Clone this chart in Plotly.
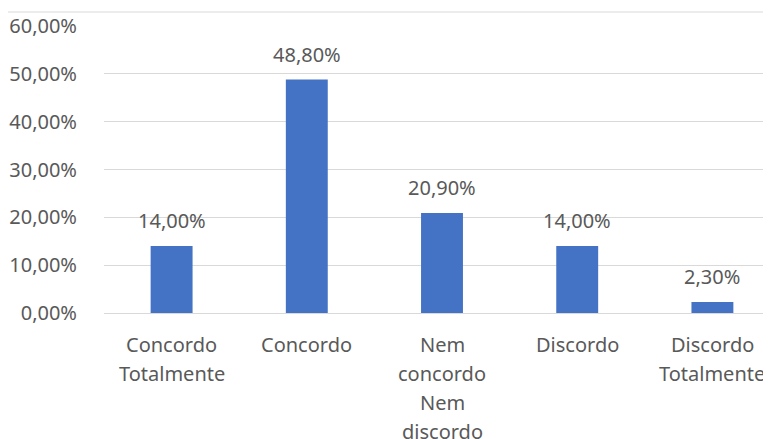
import plotly.graph_objects as go

categories = ["Concordo<br>Totalmente", "Concordo", "Nem<br>concordo<br>Nem<br>discordo", "Discordo", "Discordo<br>Totalmente"]
values = [14.00, 48.80, 20.90, 14.00, 2.30]
value_labels = ["14,00%", "48,80%", "20,90%", "14,00%", "2,30%"]
tick_vals = [0, 10, 20, 30, 40, 50, 60]
tick_text = ["0,00%", "10,00%", "20,00%", "30,00%", "40,00%", "50,00%", "60,00%"]

FONT = "Segoe UI, Noto Sans, Open Sans, sans-serif"
TXT = "#595959"
BAR = "#4472C4"
GRID = "#D9D9D9"
FS = 20

# page has an 8px body margin; figure drawn from (8, 8)
W, H = 763, 431
L, R, T, B = 96, 0, 18, 126
plot_h = H - T - B
plot_w = W - L - R

xs = list(range(len(categories)))
fig = go.Figure()
fig.add_trace(go.Bar(x=xs, y=values, marker=dict(color=BAR, line=dict(width=0)),
                     width=0.31, hoverinfo="skip"))

annotations = []
for x, v, lab in zip(xs, values, value_labels):
    annotations.append(dict(x=x, y=v, xref="x", yref="y", text=lab, showarrow=False,
                            yanchor="bottom", yshift=10,
                            font=dict(family=FONT, size=FS, color=TXT)))
line_px = 29
for x, cat in zip(xs, categories):
    for i, part in enumerate(cat.split("<br>")):
        annotations.append(dict(x=x, y=0, xref="x", yref="y", text=part, showarrow=False,
                                yanchor="middle", yshift=-(31 + i * line_px),
                                font=dict(family=FONT, size=FS, color=TXT)))

fig.update_layout(
    width=W, height=H,
    margin=dict(l=L, r=R, t=T, b=B, pad=0),
    paper_bgcolor="white", plot_bgcolor="white",
    showlegend=False,
    font=dict(family=FONT, size=FS, color=TXT),
    annotations=annotations,
    xaxis=dict(range=[-0.5, 4.5 - 9 / 135], showticklabels=False, showgrid=False,
               zeroline=False, showline=False, fixedrange=True),
    yaxis=dict(range=[0, 60], tickvals=tick_vals, ticktext=tick_text,
               showgrid=True, gridcolor=GRID, gridwidth=1, zeroline=True,
               zerolinecolor=GRID, zerolinewidth=1, showline=False,
               ticks="outside", ticklen=22, tickcolor="rgba(0,0,0,0)",
               tickfont=dict(family=FONT, size=FS, color=TXT)),
    shapes=[dict(type="line", xref="paper", yref="paper",
                 x0=-L / plot_w, x1=1.0, y0=1 + 14 / plot_h, y1=1 + 14 / plot_h,
                 line=dict(color=GRID, width=1))],
)

fig.write_html("out.html")
